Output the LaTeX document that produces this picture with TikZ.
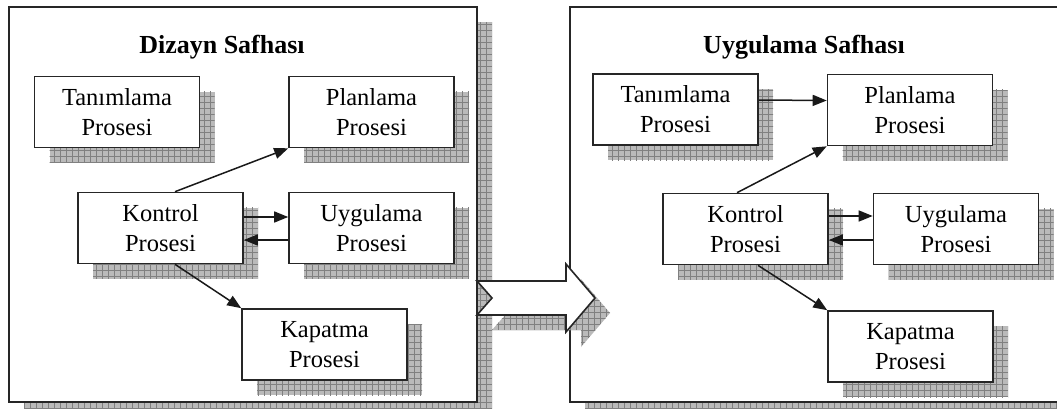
\documentclass[tikz,border=0pt]{standalone}
\usepackage{fontspec}
\setmainfont{Liberation Serif}
\usetikzlibrary{arrows.meta,patterns.meta,calc}

\tikzset{
  gridshade/.style={preaction={fill=black!27},
    pattern={Hatch[angle=0,distance=6pt,line width=0.9pt]}, pattern color=black!50},
  frame/.style={draw=black!85, line width=1.8pt, fill=white},
  procbox/.style={draw=black!85, line width=1.6pt, fill=white,
    minimum width=165pt, minimum height=71pt, inner sep=0pt, align=center,
    font=\fontsize{24.5}{30}\selectfont},
  boxshadow/.style={gridshade, minimum width=165pt, minimum height=71pt, inner sep=0pt},
  phasetitle/.style={font=\fontsize{26}{30}\selectfont\bfseries, inner sep=0pt},
  conn/.style={draw=black!90, line width=1.5pt, -{Triangle[length=14pt,width=11pt]}},
}

% process box with its chequered drop shadow
\newcommand\prcbox[4]{%
  \node[boxshadow] (#1s) at (#2+15,#3+15) {};
  \node[procbox] (#1) at (#2,#3) {#4};}

\begin{document}
\begin{tikzpicture}[x=1pt,y=-1pt]
\useasboundingbox (0,0) rectangle (1057,408);
\clip (0,0) rectangle (1057,408);

% design phase frame
\fill[gridshade] (24,22) rectangle (492,420);
\draw[frame] (9,7) rectangle (477,402);
% application phase frame
\fill[gridshade] (585,22) rectangle (1090,420);
\draw[frame] (570,7) rectangle (1090,402);

% transition arrow between the phases
\fill[gridshade, shift={(15,15)}] (477,281) -- (566,281) -- (566,264) -- (595,298)
  -- (566,332) -- (566,315) -- (477,315) -- (492,298) -- cycle;
\draw[frame, line width=1.6pt, line join=miter] (477,281) -- (566,281) -- (566,264) -- (595,298)
  -- (566,332) -- (566,315) -- (477,315) -- (492,298) -- cycle;

\node[phasetitle] (t1) at (222,47) {Dizayn Safhası};
\node[phasetitle] (t2) at (804,47) {Uygulama Safhası};

% design phase processes
\prcbox{ta1}{117}{112}{Tanımlama\\Prosesi}
\prcbox{pl1}{371.5}{112}{Planlama\\Prosesi}
\prcbox{ko1}{160.5}{228}{Kontrol\\Prosesi}
\prcbox{uy1}{371.5}{228}{Uygulama\\Prosesi}
\prcbox{ka1}{324.5}{344.5}{Kapatma\\Prosesi}

% application phase processes
\prcbox{ta2}{675.5}{109.5}{Tanımlama\\Prosesi}
\prcbox{pl2}{910}{110}{Planlama\\Prosesi}
\prcbox{ko2}{745.5}{229}{Kontrol\\Prosesi}
\prcbox{uy2}{956}{229}{Uygulama\\Prosesi}
\prcbox{ka2}{910.5}{346.5}{Kapatma\\Prosesi}

% design phase connectors
\draw[conn] ([shift={(14.5,0)}]ko1.north) -- (pl1.south west);
\draw[conn] ([shift={(0,-11)}]ko1.east) -- ([shift={(0,-11)}]uy1.west);
\draw[conn] ([shift={(0,12)}]uy1.west) -- ([shift={(0,12)}]ko1.east);
\draw[conn] ([shift={(14.5,0)}]ko1.south) -- (ka1.north west);

% application phase connectors
\draw[conn] ([shift={(0,-9.5)}]ta2.east) -- ([shift={(0,-9.5)}]pl2.west);
\draw[conn] ([shift={(-8.5,0)}]ko2.north) -- (pl2.south west);
\draw[conn] ([shift={(0,-13)}]ko2.east) -- ([shift={(0,-13)}]uy2.west);
\draw[conn] ([shift={(0,11)}]uy2.west) -- ([shift={(0,11)}]ko2.east);
\draw[conn] ([shift={(12.5,0)}]ko2.south) -- (ka2.north west);
\end{tikzpicture}
\end{document}
